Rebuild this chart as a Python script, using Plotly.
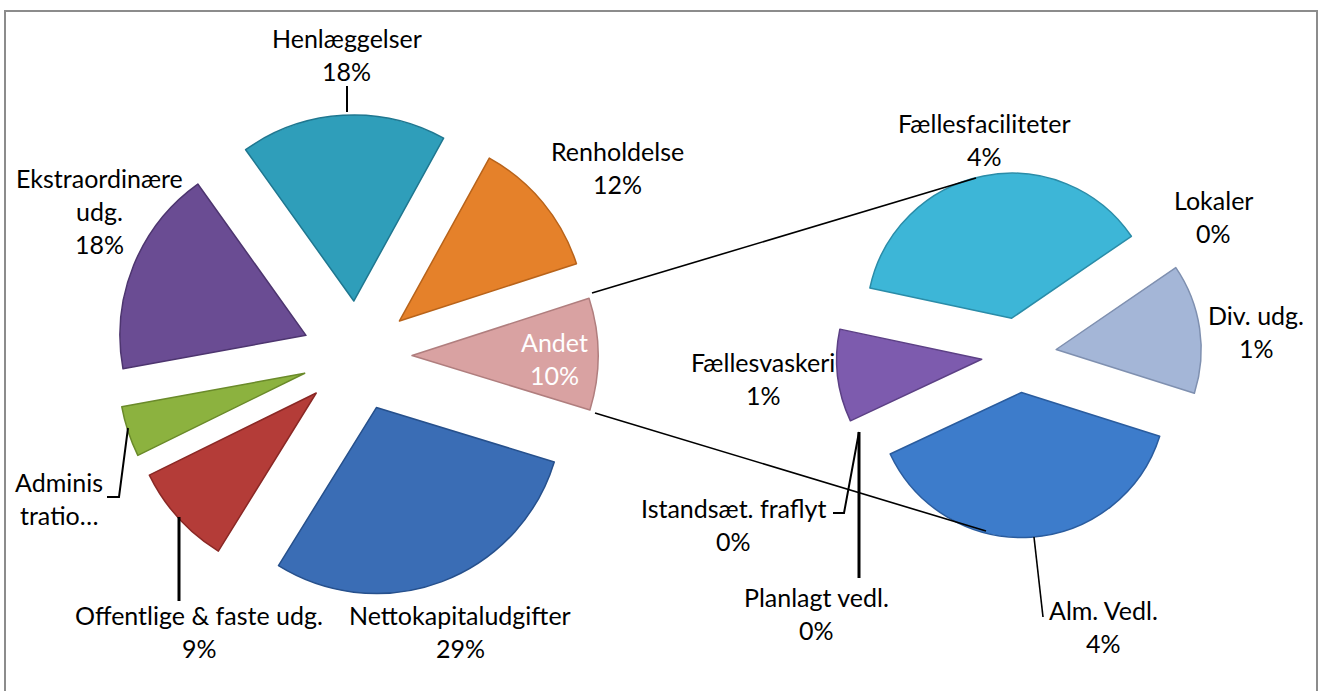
import plotly.graph_objects as go

W, H = 1321, 691

# ---------------- data ----------------
left_labels = ["Nettokapitaludgifter", "Offentlige & faste udg.", "Administration",
               "Ekstraordinære udg.", "Henlæggelser", "Renholdelse", "Andet"]
right_labels = ["Fællesfaciliteter", "Lokaler", "Div. udg.", "Alm. Vedl.",
                "Planlagt vedl.", "Istandsæt. fraflyt", "Fællesvaskeri"]
right_values = [3.6, 0.0, 1.4, 3.7, 0.0, 0.0, 1.0]
left_values = [29.1, 8.9, 4.4, 18.0, 17.9, 12.0, sum(right_values)]

left_colors = ["#3A6DB5", "#B43C38", "#8CB23F", "#6A4C93", "#2F9EBA", "#E5812A", "#D9A2A2"]
left_edges = ["#26508C", "#8A2825", "#6A8A2A", "#4D356F", "#1F7790", "#B8631A", "#B07E7E"]
right_colors = ["#3DB6D7", "#C0C0C0", "#A4B6D7", "#3D7CCB", "#C0C0C0", "#C0C0C0", "#7D5BAE"]
right_edges = ["#2A8CA8", "#C0C0C0", "#7F90B0", "#2A5C9E", "#C0C0C0", "#C0C0C0", "#5C4085"]

# label text lines (as displayed) and whether a % line follows
left_text_lines = [["Nettokapitaludgifter"], ["Offentlige & faste udg."], ["Adminis", "tratio…"],
                   ["Ekstraordinære", "udg."], ["Henlæggelser"], ["Renholdelse"], ["Andet"]]
left_show_pct = [True, True, False, True, True, True, True]
right_text_lines = [["Fællesfaciliteter"], ["Lokaler"], ["Div. udg."], ["Alm. Vedl."],
                    ["Planlagt vedl."], ["Istandsæt. fraflyt"], ["Fællesvaskeri"]]

# ---------------- layout positions (pixels) ----------------
left_label_pos = [(460, 615), (199, 615), (59, 482), (99, 178), (347, 38), (617, 151), (554, 342)]
right_label_pos = [(984, 123), (1213, 200), (1256, 315), (1103, 610), (816, 597), (733, 508), (763, 362)]
LINE_GAP = 33

FONT = "Lato"
FSIZE = 25


def px(x):
    return x / W


def py(y):
    return 1 - y / H


total = sum(left_values)

fig = go.Figure()

# left pie
lc, lr, lpull = (357, 356), 186, 0.296
lhalf = lr * (1 + lpull)
fig.add_trace(go.Pie(
    labels=left_labels, values=left_values, sort=False, direction="clockwise",
    rotation=107, pull=lpull, textinfo="none",
    marker=dict(colors=left_colors, line=dict(color=left_edges, width=1.5)),
    domain=dict(x=[px(lc[0] - lhalf), px(lc[0] + lhalf)],
                y=[py(lc[1] + lhalf), py(lc[1] - lhalf)]),
    showlegend=False, name="",
))

# right pie
rc, rr, rpull = (1019, 355), 145, 0.259
rhalf = rr * (1 + rpull)
right_widths = [0 if v == 0 else 1.5 for v in right_values]
fig.add_trace(go.Pie(
    labels=right_labels, values=right_values, sort=False, direction="clockwise",
    rotation=282, pull=rpull, textinfo="none",
    marker=dict(colors=right_colors, line=dict(color=right_edges, width=right_widths)),
    domain=dict(x=[px(rc[0] - rhalf), px(rc[0] + rhalf)],
                y=[py(rc[1] + rhalf), py(rc[1] - rhalf)]),
    showlegend=False, name="",
))

annotations = []


def add_label(lines, pos, color="black"):
    x, y = pos
    for i, t in enumerate(lines):
        annotations.append(dict(
            x=px(x), y=py(y + i * LINE_GAP), xref="paper", yref="paper",
            text=t, showarrow=False, xanchor="center", yanchor="middle",
            font=dict(family=FONT, size=FSIZE, color=color)))


for lines, show, v, pos, name in zip(left_text_lines, left_show_pct, left_values,
                                       left_label_pos, left_labels):
    ls = list(lines)
    if show:
        ls.append(f"{round(v / total * 100)}%")
    add_label(ls, pos, "white" if name == "Andet" else "black")

for lines, v, pos in zip(right_text_lines, right_values, right_label_pos):
    add_label(list(lines) + [f"{round(v / total * 100)}%"], pos)

shapes = []


def path_shape(points, width=2, color="black"):
    d = "M " + " L ".join(f"{px(x)},{py(y)}" for x, y in points)
    shapes.append(dict(type="path", path=d, xref="paper", yref="paper",
                       line=dict(color=color, width=width)))


# connector lines between pies
path_shape([(592, 293), (976, 178)], 1.6)
path_shape([(595, 413), (986, 531)], 1.6)
# leader lines
path_shape([(347, 86), (347, 112)], 2)
path_shape([(128, 428), (119, 497), (107, 497)], 2)
path_shape([(179, 517), (179, 601)], 3)
path_shape([(833, 513), (844, 513), (859, 432)], 2)
path_shape([(859, 432), (859, 578)], 3)
path_shape([(1034, 537), (1043, 617)], 1.6)

# chart border
shapes.append(dict(type="rect", xref="paper", yref="paper",
                   x0=px(5), x1=px(1317), y0=py(700), y1=py(11),
                   line=dict(color="#8C8C8C", width=2)))

fig.update_layout(
    width=W, height=H, margin=dict(l=0, r=0, t=0, b=0),
    paper_bgcolor="white", plot_bgcolor="white",
    annotations=annotations, shapes=shapes,
    font=dict(family=FONT, size=FSIZE),
)

fig.write_html("out.html", config={"displayModeBar": False},
               post_script="document.body.style.margin='0';document.body.style.overflow='hidden';")
